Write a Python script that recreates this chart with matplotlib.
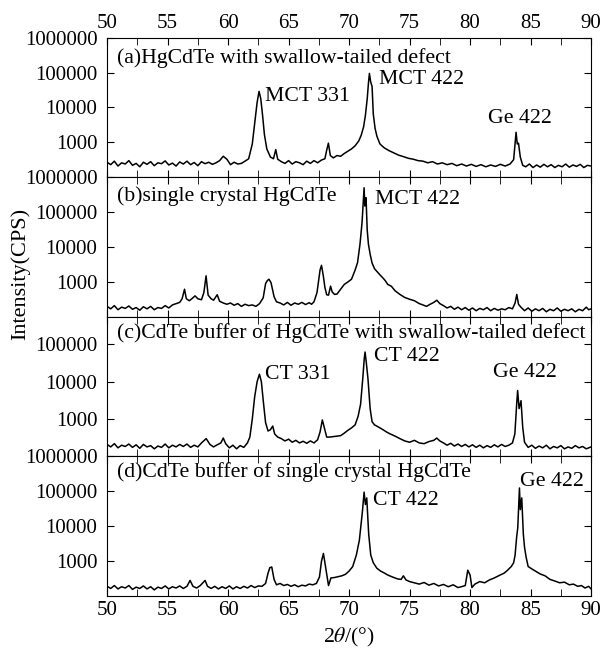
import numpy as np
import matplotlib
matplotlib.use("Agg")
import matplotlib.pyplot as plt
from matplotlib.ticker import FixedLocator, LogLocator, FuncFormatter, MultipleLocator, NullFormatter

plt.rcParams["font.family"] = ["Liberation Serif", "DejaVu Serif"]
plt.rcParams["mathtext.fontset"] = "stix"

# ---- data (2theta in deg, intensity in CPS) ----
tth_a = [50.0, 50.3, 50.6, 50.9, 51.2, 51.5, 51.8, 52.1, 52.4, 52.7, 53.0, 53.3, 53.6, 53.9, 54.2, 54.5,
         54.8, 55.1, 55.4, 55.7, 56.0, 56.3, 56.6, 56.9, 57.2, 57.5, 57.8, 58.1, 58.4, 58.7, 59.0, 59.3,
         59.6, 59.9, 60.2, 60.5, 60.8, 61.1, 61.4, 61.7, 62.0, 62.2, 62.4, 62.56, 62.7, 62.85, 63.0, 63.2,
         63.5, 63.75, 63.94, 64.1, 64.4, 64.7, 65.0, 65.3, 65.6, 65.9, 66.2, 66.5, 66.8, 67.1, 67.4, 67.7,
         68.0, 68.15, 68.29, 68.45, 68.7, 69.0, 69.3, 69.6, 69.9, 70.2, 70.5, 70.8, 71.0, 71.2, 71.35, 71.5,
         71.6, 71.68, 71.78, 71.9, 72.0, 72.15, 72.3, 72.55, 72.9, 73.3, 73.7, 74.1, 74.5, 74.9, 75.3, 75.7,
         76.1, 76.5, 76.9, 77.3, 77.7, 78.1, 78.5, 78.9, 79.3, 79.7, 80.1, 80.5, 80.9, 81.3, 81.7, 82.1,
         82.5, 82.9, 83.3, 83.6, 83.8, 83.9, 84.0, 84.15, 84.35, 84.6, 84.9, 85.2, 85.5, 85.8, 86.1, 86.4,
         86.7, 87.0, 87.3, 87.6, 87.9, 88.2, 88.5, 88.8, 89.1, 89.4, 89.7, 90.0]
cps_a = [270, 230, 290, 210, 260, 240, 300, 220, 250, 200, 270, 235, 280, 215, 260, 245,
         295, 225, 255, 210, 275, 240, 290, 230, 265, 215, 280, 245, 270, 235, 260, 300,
         400, 330, 230, 270, 240, 250, 290, 340, 900, 3500, 14000, 29000, 18000, 6000, 1700, 650,
         380, 340, 620, 330, 280, 250, 300, 240, 280, 260, 230, 290, 250, 300, 260, 310,
         340, 600, 950, 420, 360, 420, 400, 480, 560, 650, 800, 1100, 1600, 2800, 6000, 18000,
         50000, 95000, 55000, 40000, 6500, 2500, 1500, 900, 700, 580, 500, 430, 390, 350, 330, 300,
         290, 260, 280, 240, 260, 230, 250, 215, 240, 210, 235, 205, 230, 200, 225, 205,
         235, 210, 240, 320, 1950, 900, 950, 380, 220, 200, 240, 190, 225, 195, 235, 200,
         230, 190, 220, 200, 240, 195, 225, 205, 235, 190, 220, 210]

tth_b = [50.0, 50.3, 50.6, 50.9, 51.2, 51.5, 51.8, 52.1, 52.4, 52.7, 53.0, 53.3, 53.6, 53.9, 54.2, 54.5,
         54.8, 55.1, 55.4, 55.7, 56.0, 56.2, 56.4, 56.55, 56.8, 57.0, 57.27, 57.5, 57.8, 58.0, 58.18, 58.35,
         58.6, 58.8, 59.1, 59.3, 59.6, 59.9, 60.2, 60.5, 60.8, 61.1, 61.4, 61.7, 62.0, 62.3, 62.6, 62.9,
         63.1, 63.25, 63.38, 63.55, 63.8, 64.0, 64.3, 64.6, 64.9, 65.2, 65.5, 65.8, 66.1, 66.4, 66.7, 66.9,
         67.1, 67.35, 67.5, 67.6, 67.72, 67.87, 68.0, 68.15, 68.3, 68.47, 68.6, 68.8, 69.0, 69.3, 69.6, 69.9,
         70.2, 70.5, 70.7, 70.9, 71.07, 71.2, 71.24, 71.3, 71.4, 71.5, 71.6, 71.75, 71.9, 72.1, 72.3, 72.55,
         72.8, 72.98, 73.2, 73.5, 73.8, 74.2, 74.6, 75.0, 75.4, 75.8, 76.1, 76.4, 76.7, 77.0, 77.25, 77.5,
         77.8, 78.1, 78.4, 78.7, 79.0, 79.3, 79.6, 79.9, 80.2, 80.5, 80.8, 81.1, 81.4, 81.7, 82.0, 82.3,
         82.6, 82.9, 83.2, 83.5, 83.72, 83.86, 84.0, 84.2, 84.5, 84.8, 85.1, 85.4, 85.7, 86.0, 86.3, 86.6,
         86.9, 87.2, 87.5, 87.8, 88.1, 88.4, 88.7, 89.0, 89.3, 89.6, 89.8, 90.0]
cps_b = [200, 170, 210, 160, 190, 175, 205, 165, 185, 155, 195, 170, 200, 160, 185, 175,
         210, 180, 220, 240, 260, 330, 620, 330, 290, 330, 400, 330, 310, 500, 1500, 420,
         330, 300, 430, 280, 250, 230, 250, 215, 240, 200, 230, 210, 220, 200, 240, 350,
         900, 1100, 1200, 950, 380, 270, 250, 220, 260, 215, 250, 230, 260, 225, 255, 230,
         270, 500, 1200, 2200, 3000, 1500, 700, 430, 420, 760, 520, 440, 450, 620, 850, 1000,
         1200, 2200, 3600, 12000, 50000, 300000, 500000, 150000, 260000, 30000, 12000, 6000, 3500, 2400, 2000, 1600,
         1300, 1100, 850, 750, 560, 440, 360, 320, 290, 240, 220, 200, 230, 260, 300, 240,
         210, 180, 200, 165, 190, 160, 185, 155, 180, 150, 175, 160, 185, 150, 175, 155,
         170, 160, 185, 170, 250, 440, 230, 190, 150, 180, 145, 170, 150, 175, 140, 165,
         150, 180, 145, 165, 150, 170, 140, 165, 150, 190, 160, 170]

tth_c = [50.0, 50.3, 50.6, 50.9, 51.2, 51.5, 51.8, 52.1, 52.4, 52.7, 53.0, 53.3, 53.6, 53.9, 54.2, 54.5,
         54.8, 55.1, 55.4, 55.7, 56.0, 56.3, 56.6, 56.9, 57.2, 57.5, 57.8, 58.19, 58.5, 58.8, 59.1, 59.4,
         59.6, 59.8, 60.1, 60.4, 60.7, 61.0, 61.3, 61.6, 61.8, 62.0, 62.2, 62.4, 62.59, 62.75, 62.92, 63.1,
         63.3, 63.5, 63.69, 63.85, 64.1, 64.4, 64.7, 65.0, 65.3, 65.6, 65.9, 66.2, 66.5, 66.8, 67.1, 67.4,
         67.6, 67.79, 67.95, 68.15, 68.4, 68.7, 69.0, 69.3, 69.6, 69.9, 70.2, 70.5, 70.75, 70.95, 71.13, 71.25,
         71.32, 71.42, 71.56, 71.74, 71.9, 72.1, 72.4, 72.8, 73.1, 73.4, 73.8, 74.2, 74.6, 75.0, 75.4, 75.8,
         76.2, 76.6, 77.0, 77.25, 77.5, 77.8, 78.1, 78.4, 78.7, 79.0, 79.3, 79.6, 79.9, 80.2, 80.5, 80.8,
         81.1, 81.4, 81.7, 82.0, 82.3, 82.6, 82.9, 83.2, 83.5, 83.7, 83.85, 83.93, 84.05, 84.21, 84.35, 84.5,
         84.8, 85.1, 85.4, 85.7, 86.0, 86.3, 86.6, 86.9, 87.2, 87.5, 87.8, 88.1, 88.4, 88.7, 89.0, 89.3,
         89.6, 90.0]
cps_c = [210, 180, 220, 170, 200, 185, 215, 175, 205, 165, 210, 180, 195, 160, 190, 175,
         215, 170, 200, 180, 210, 185, 215, 175, 200, 180, 230, 300, 210, 180, 205, 230,
         310, 220, 170, 200, 160, 195, 175, 230, 330, 1000, 4000, 10000, 15800, 10000, 2800, 800,
         480, 520, 650, 400, 330, 300, 260, 290, 240, 270, 230, 255, 225, 260, 230, 280,
         450, 950, 600, 330, 330, 340, 350, 360, 420, 500, 580, 700, 1200, 2500, 12000, 40000,
         62000, 33000, 12000, 1900, 850, 700, 620, 520, 450, 400, 350, 300, 260, 240, 270, 230,
         220, 250, 270, 310, 260, 230, 200, 225, 190, 215, 185, 210, 180, 205, 175, 200,
         170, 195, 175, 205, 180, 210, 185, 200, 230, 400, 2500, 5800, 1900, 3100, 600, 240,
         175, 200, 165, 190, 170, 200, 160, 185, 170, 195, 160, 180, 165, 195, 170, 185,
         160, 180]

tth_d = [50.0, 50.3, 50.6, 50.9, 51.2, 51.5, 51.8, 52.1, 52.4, 52.7, 53.0, 53.3, 53.6, 53.9, 54.2, 54.5,
         54.8, 55.1, 55.4, 55.7, 56.0, 56.3, 56.6, 56.86, 57.1, 57.4, 57.7, 58.1, 58.3, 58.6, 58.9, 59.2,
         59.5, 59.8, 60.1, 60.4, 60.7, 61.0, 61.3, 61.6, 61.9, 62.2, 62.5, 62.8, 63.1, 63.3, 63.45, 63.61,
         63.8, 64.0, 64.3, 64.6, 64.9, 65.2, 65.5, 65.8, 66.1, 66.4, 66.7, 67.0, 67.3, 67.55, 67.72, 67.88,
         68.0, 68.15, 68.3, 68.5, 68.8, 69.1, 69.4, 69.7, 70.0, 70.3, 70.6, 70.85, 71.1, 71.24, 71.35, 71.46,
         71.62, 71.79, 72.0, 72.29, 72.6, 72.9, 73.2, 73.6, 74.0, 74.3, 74.49, 74.7, 75.0, 75.4, 75.8, 76.2,
         76.6, 77.0, 77.4, 77.8, 78.2, 78.6, 79.0, 79.4, 79.6, 79.81, 80.0, 80.15, 80.4, 80.8, 81.2, 81.6,
         82.0, 82.48, 82.8, 83.1, 83.4, 83.6, 83.72, 83.85, 83.94, 84.08, 84.15, 84.27, 84.4, 84.5, 84.63, 84.8,
         85.1, 85.4, 85.79, 86.2, 86.6, 87.0, 87.4, 87.8, 88.2, 88.54, 88.9, 89.2, 89.5, 89.8, 90.0]
cps_d = [190, 165, 200, 160, 185, 170, 200, 155, 180, 165, 195, 160, 185, 150, 180, 165,
         195, 160, 185, 170, 195, 165, 190, 280, 190, 170, 200, 280, 190, 165, 190, 160,
         185, 165, 195, 160, 185, 165, 190, 170, 200, 175, 195, 190, 230, 450, 650, 680,
         300, 210, 230, 200, 215, 190, 210, 185, 205, 195, 220, 210, 230, 350, 1000, 1660,
         900, 400, 200, 330, 340, 360, 380, 420, 520, 700, 1500, 4000, 26000, 95000, 42000, 65000,
         6000, 1500, 900, 630, 520, 460, 400, 350, 310, 300, 380, 290, 260, 240, 220, 245,
         205, 230, 195, 215, 185, 210, 175, 190, 200, 550, 400, 175, 220, 260, 240, 290,
         330, 400, 450, 550, 700, 900, 1500, 5000, 9000, 125000, 30000, 65000, 6000, 2500, 1300, 700,
         600, 520, 430, 380, 300, 270, 240, 250, 210, 220, 190, 200, 170, 190, 160]

panel_titles = ["(a)HgCdTe with swallow-tailed defect",
                "(b)single crystal HgCdTe",
                "(c)CdTe buffer of HgCdTe with swallow-tailed defect",
                "(d)CdTe buffer of single crystal HgCdTe"]
title_y = [0.857, 0.865, 0.887, 0.886]
ytops = [1e6, 1e6, 5.4e5, 1e6]

# peak labels: (text, 2theta, intensity)
peak_labels = [
    [("MCT 331", 63.06, 2.0e4), ("MCT 422", 72.5, 6.2e4), ("Ge 422", 81.5, 4.9e3)],
    [("MCT 422", 72.15, 2.3e5)],
    [("CT 331", 63.06, 1.6e4), ("CT 422", 72.1, 4.6e4), ("Ge 422", 81.9, 1.8e4)],
    [("CT 422", 72.0, 5.4e4), ("Ge 422", 84.13, 1.9e5)],
]

series = [(tth_a, cps_a), (tth_b, cps_b), (tth_c, cps_c), (tth_d, cps_d)]

fig, axes = plt.subplots(4, 1, sharex=True, figsize=(6.05, 6.5), dpi=100)
fig.subplots_adjust(left=0.177, right=0.977, top=0.942, bottom=0.083, hspace=0)

for i, ax in enumerate(axes):
    x, y = series[i]
    ax.plot(x, y, color="black", lw=1.1)
    ax.set_yscale("log")
    ax.set_ylim(100, ytops[i])
    ax.set_xlim(50, 90)
    ax.yaxis.set_major_locator(FixedLocator([1e3, 1e4, 1e5, 1e6]))
    ax.yaxis.set_major_formatter(FuncFormatter(lambda v, p: f"{int(round(v))}"))
    ax.yaxis.set_minor_locator(LogLocator(base=10, subs=np.arange(2, 10)))
    ax.yaxis.set_minor_formatter(NullFormatter())
    ax.xaxis.set_major_locator(MultipleLocator(5))
    ax.xaxis.set_minor_locator(MultipleLocator(2.5))
    ax.tick_params(which="both", direction="in", top=True, right=True, labelsize=15)
    ax.tick_params(which="major", length=5, width=0.8)
    ax.tick_params(which="minor", length=3, width=0.6)
    ax.tick_params(axis="x", which="minor", length=5)
    ax.tick_params(axis="y", which="major", pad=7)
    ax.text(0.02, title_y[i], panel_titles[i], transform=ax.transAxes, fontsize=15.7, va="center", ha="left")
    for txt, px, py in peak_labels[i]:
        ax.text(px, py, txt, fontsize=15.7, va="center", ha="left")
    ax.tick_params(axis="x", labelbottom=(i == 3), labeltop=(i == 0))

fig.text(0.033, 0.578, "Intensity(CPS)", rotation=90, va="center", ha="center", fontsize=16)
fig.text(0.577, 0.02, r"2$\theta$/(°)", va="center", ha="center", fontsize=15.7)

plt.savefig("out.png", dpi=100)
